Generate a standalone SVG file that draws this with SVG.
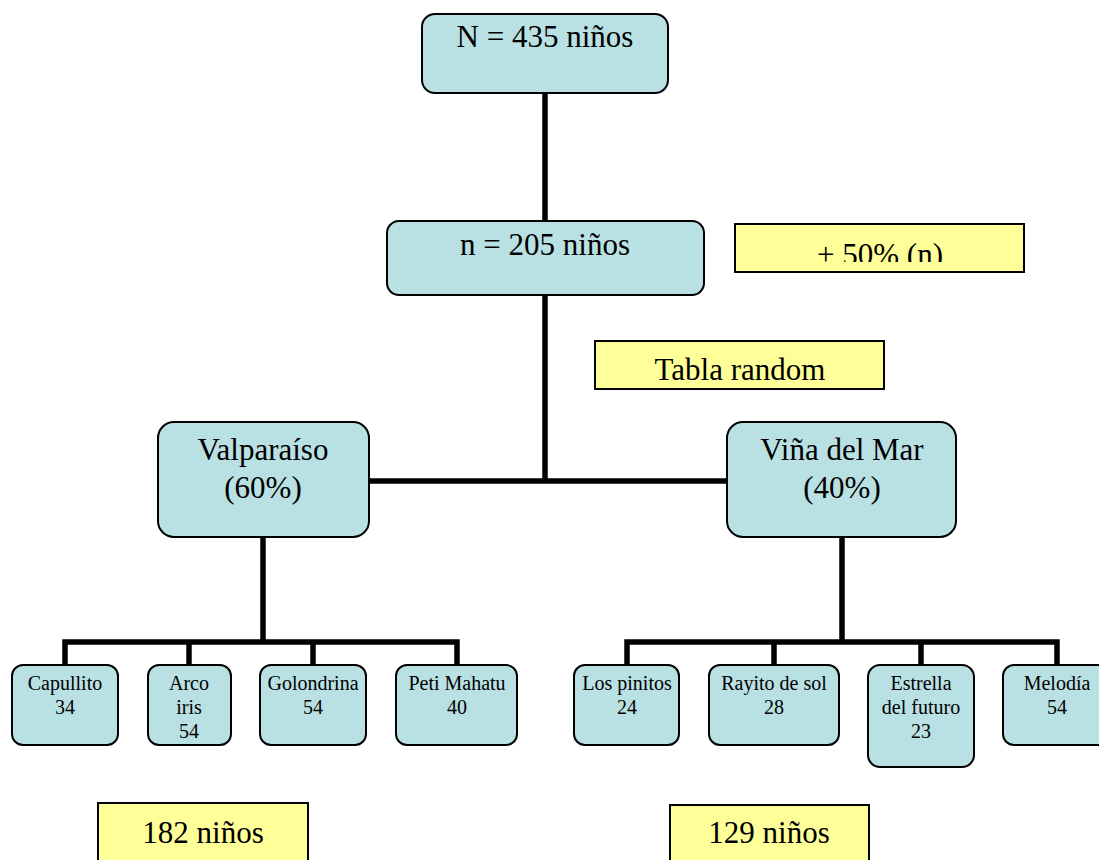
<svg xmlns="http://www.w3.org/2000/svg" width="1099" height="860" viewBox="0 0 1099 860">
  <defs>
    <style>
      .node { fill: #b9e0e3; stroke: #000; stroke-width: 2; }
      .note { fill: #ffff99; stroke: #000; stroke-width: 2; }
      .big { font-family: "Liberation Serif", "Times New Roman", serif; font-size: 31px; fill: #000; text-anchor: middle; }
      .small { font-family: "Liberation Serif", "Times New Roman", serif; font-size: 20px; fill: #000; text-anchor: middle; }
      .conn { fill: none; stroke: #000; stroke-width: 5.5; stroke-linecap: butt; stroke-linejoin: miter; }
    </style>
    <clipPath id="clipNote"><rect x="736" y="225" width="287" height="37"/></clipPath>
  </defs>
  <rect width="1099" height="860" fill="#fff"/>

  <g id="connectors">
    <line class="conn" x1="545" y1="93" x2="545" y2="221"/>
    <line class="conn" x1="545" y1="295" x2="545" y2="481"/>
    <line class="conn" x1="369" y1="481" x2="727" y2="481"/>
    <path class="conn" d="M263 537 V642"/>
    <path class="conn" d="M65 665 V642 H457 V665"/>
    <path class="conn" d="M189 642 V665"/>
    <path class="conn" d="M313 642 V665"/>
    <path class="conn" d="M842 537 V642"/>
    <path class="conn" d="M627 665 V642 H1057 V665"/>
    <path class="conn" d="M774 642 V665"/>
    <path class="conn" d="M921 642 V665"/>
  </g>

  <g id="root">
    <rect class="node" x="422" y="14" width="246" height="79" rx="13"/>
    <text class="big" x="545" y="47">N = 435 niños</text>
  </g>
  <g id="sample">
    <rect class="node" x="387" y="221" width="317" height="74" rx="12"/>
    <text class="big" x="545" y="255">n = 205 niños</text>
  </g>
  <g id="note-50">
    <rect class="note" x="735" y="224" width="289" height="48"/>
    <text class="big" x="880" y="265" clip-path="url(#clipNote)">+ 50% (n)</text>
  </g>
  <g id="note-tabla">
    <rect class="note" x="595" y="341" width="289" height="48"/>
    <text class="big" x="740" y="380">Tabla random</text>
  </g>
  <g id="valparaiso">
    <rect class="node" x="158" y="422" width="211" height="115" rx="16"/>
    <text class="big" x="263" y="460">Valparaíso</text>
    <text class="big" x="263" y="498">(60%)</text>
  </g>
  <g id="vina">
    <rect class="node" x="727" y="422" width="229" height="115" rx="16"/>
    <text class="big" x="842" y="460">Viña del Mar</text>
    <text class="big" x="842" y="498">(40%)</text>
  </g>

  <g id="capullito">
    <rect class="node" x="12" y="665" width="106" height="80" rx="11"/>
    <text class="small" x="65" y="690">Capullito</text>
    <text class="small" x="65" y="714">34</text>
  </g>
  <g id="arcoiris">
    <rect class="node" x="148" y="665" width="83" height="80" rx="11"/>
    <text class="small" x="189" y="690">Arco</text>
    <text class="small" x="189" y="714">iris</text>
    <text class="small" x="189" y="738">54</text>
  </g>
  <g id="golondrina">
    <rect class="node" x="260" y="665" width="106" height="80" rx="11"/>
    <text class="small" x="313" y="690">Golondrina</text>
    <text class="small" x="313" y="714">54</text>
  </g>
  <g id="petimahatu">
    <rect class="node" x="396" y="665" width="121" height="80" rx="11"/>
    <text class="small" x="457" y="690">Peti Mahatu</text>
    <text class="small" x="457" y="714">40</text>
  </g>
  <g id="lospinitos">
    <rect class="node" x="574" y="665" width="105" height="80" rx="11"/>
    <text class="small" x="627" y="690">Los pinitos</text>
    <text class="small" x="627" y="714">24</text>
  </g>
  <g id="rayito">
    <rect class="node" x="709" y="665" width="130" height="80" rx="11"/>
    <text class="small" x="774" y="690">Rayito de sol</text>
    <text class="small" x="774" y="714">28</text>
  </g>
  <g id="estrella">
    <rect class="node" x="868" y="665" width="106" height="102" rx="12"/>
    <text class="small" x="921" y="690">Estrella</text>
    <text class="small" x="921" y="714">del futuro</text>
    <text class="small" x="921" y="738">23</text>
  </g>
  <g id="melodia">
    <rect class="node" x="1003" y="665" width="110" height="80" rx="11"/>
    <text class="small" x="1057" y="690">Melodía</text>
    <text class="small" x="1057" y="714">54</text>
  </g>

  <g id="total-valpo">
    <rect class="note" x="98" y="803" width="210" height="70"/>
    <text class="big" x="203" y="843">182 niños</text>
  </g>
  <g id="total-vina">
    <rect class="note" x="670" y="805" width="199" height="70"/>
    <text class="big" x="769" y="843">129 niños</text>
  </g>
</svg>
